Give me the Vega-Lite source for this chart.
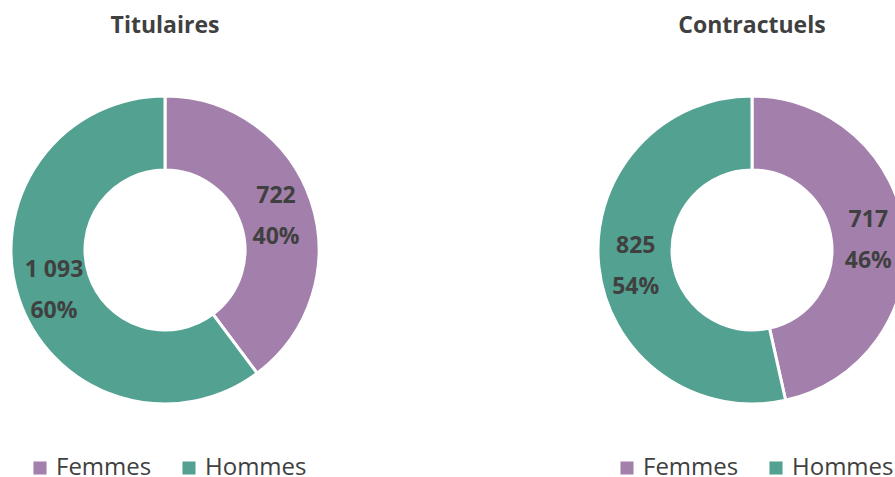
{
  "$schema": "https://vega.github.io/schema/vega-lite/v6.json",
  "padding": {"left": 0, "top": 15, "right": 0, "bottom": 40},
  "background": "white",
  "spacing": 257,
  "config": {
    "view": {"stroke": null},
    "font": "Open Sans",
    "title": {"font": "Open Sans", "fontSize": 23, "fontWeight": "bold", "color": "#404040", "anchor": "middle", "offset": 52},
    "legend": {"orient": "none", "legendX": 28, "legendY": 361, "direction": "horizontal", "symbolType": "square", "symbolSize": 170, "labelFontSize": 24, "labelColor": "#404040", "labelFont": "Open Sans", "columnPadding": 25, "symbolStrokeWidth": 0, "title": null}
  },
  "resolve": {"legend": {"color": "independent"}},
  "hconcat": [
    {
      "title": "Titulaires",
      "width": 330,
      "height": 310,
      "data": {"values": [
        {"sexe": "Femmes", "effectif": 722, "nombre": "722", "pct": "40%", "ordre": 1},
        {"sexe": "Hommes", "effectif": 1093, "nombre": "1 093", "pct": "60%", "ordre": 2}
      ]},
      "encoding": {
        "theta": {"field": "effectif", "type": "quantitative", "stack": true},
        "order": {"field": "ordre", "type": "quantitative"}
      },
      "layer": [
        {
          "mark": {"type": "arc", "innerRadius": 80, "outerRadius": 154, "stroke": "white", "strokeWidth": 3},
          "encoding": {
            "color": {"field": "sexe", "type": "nominal", "scale": {"domain": ["Femmes", "Hommes"], "range": ["#A380AC", "#52A191"]}}
          }
        },
        {
          "mark": {"type": "text", "radius": 117, "dy": -17, "fontSize": 23, "fontWeight": "bold", "color": "#404040"},
          "encoding": {"text": {"field": "nombre"}}
        },
        {
          "mark": {"type": "text", "radius": 117, "dy": 24, "fontSize": 23, "fontWeight": "bold", "color": "#404040"},
          "encoding": {"text": {"field": "pct"}}
        }
      ]
    },
    {
      "title": "Contractuels",
      "width": 330,
      "height": 310,
      "data": {"values": [
        {"sexe": "Femmes", "effectif": 717, "nombre": "717", "pct": "46%", "ordre": 1},
        {"sexe": "Hommes", "effectif": 825, "nombre": "825", "pct": "54%", "ordre": 2}
      ]},
      "encoding": {
        "theta": {"field": "effectif", "type": "quantitative", "stack": true},
        "order": {"field": "ordre", "type": "quantitative"}
      },
      "layer": [
        {
          "mark": {"type": "arc", "innerRadius": 80, "outerRadius": 154, "stroke": "white", "strokeWidth": 3},
          "encoding": {
            "color": {"field": "sexe", "type": "nominal", "scale": {"domain": ["Femmes", "Hommes"], "range": ["#A380AC", "#52A191"]}}
          }
        },
        {
          "mark": {"type": "text", "radius": 117, "dy": -17, "fontSize": 23, "fontWeight": "bold", "color": "#404040"},
          "encoding": {"text": {"field": "nombre"}}
        },
        {
          "mark": {"type": "text", "radius": 117, "dy": 24, "fontSize": 23, "fontWeight": "bold", "color": "#404040"},
          "encoding": {"text": {"field": "pct"}}
        }
      ]
    }
  ]
}
